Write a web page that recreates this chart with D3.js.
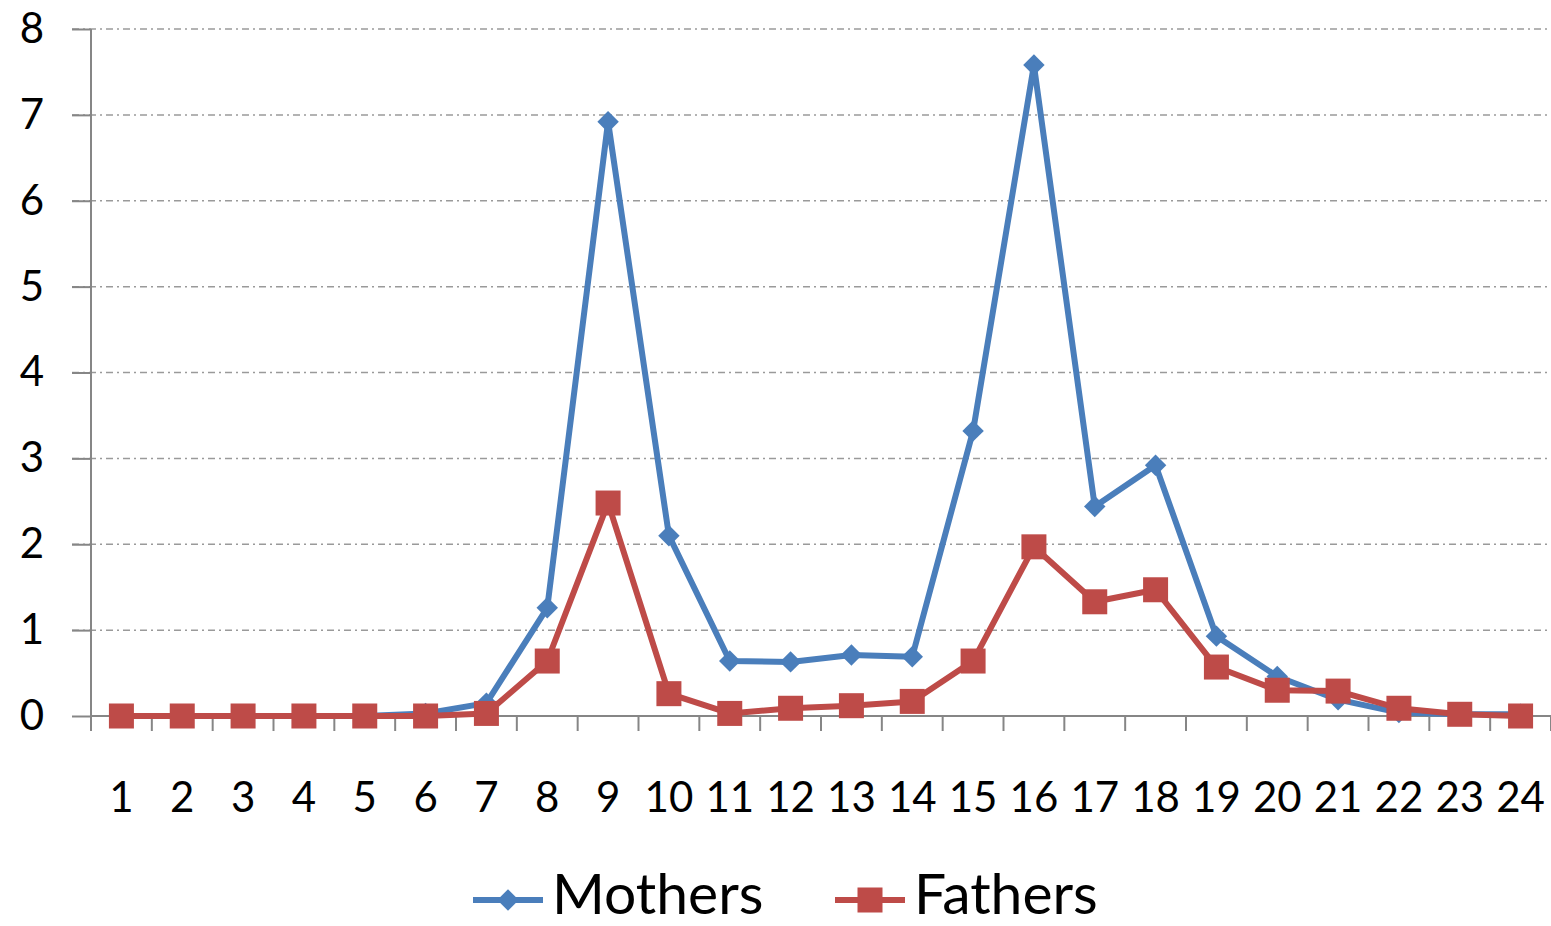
<!DOCTYPE html>
<html>
<head>
<meta charset="utf-8">
<script src="https://cdn.jsdelivr.net/npm/d3@7"></script>
<style>
  html, body { margin: 0; padding: 0; background: #fff; }
  svg { display: block; }
  text { font-family: Lato, "Open Sans", sans-serif; fill: #000; }
</style>
</head>
<body>
<svg id="chart" width="1551" height="926"></svg>
<script>
const categories = ["1","2","3","4","5","6","7","8","9","10","11","12","13","14","15","16","17","18","19","20","21","22","23","24"];
const mothers = [0, 0, 0, 0, 0, 0.03, 0.15, 1.26, 6.92, 2.1, 0.64, 0.63, 0.71, 0.69, 3.32, 7.58, 2.44, 2.92, 0.93, 0.46, 0.19, 0.04, 0.02, 0.02];
const fathers = [0, 0, 0, 0, 0, 0, 0.03, 0.64, 2.48, 0.26, 0.03, 0.09, 0.12, 0.17, 0.64, 1.97, 1.33, 1.47, 0.57, 0.3, 0.29, 0.09, 0.02, 0];
const yTicks = [0, 1, 2, 3, 4, 5, 6, 7, 8];
const seriesNames = ["Mothers", "Fathers"];
const seriesColors = ["#4A7EBB", "#BE4B48"];

(function () {
const svg = d3.select("#chart");
const mLeft = 91, mRight = 1551, mTop = 29, mBottom = 716;

const x = d3.scaleBand().domain(categories).range([mLeft, mRight]).padding(0);
const y = d3.scaleLinear().domain([0, 8]).range([mBottom, mTop]);

// gridlines
svg.append("g").selectAll("line").data(yTicks.filter(d => d > 0)).join("line")
  .attr("x1", mLeft - 19).attr("x2", mRight)
  .attr("y1", d => y(d)).attr("y2", d => y(d))
  .attr("stroke", "#9a9a9a").attr("stroke-width", 1.5)
  .attr("stroke-dasharray", "7,4,2,4");

// y axis
const yAxis = svg.append("g").attr("transform", `translate(${mLeft},0)`)
  .call(d3.axisLeft(y).tickValues(yTicks).tickSize(19).tickPadding(28).tickFormat(d3.format("d")));
yAxis.select(".domain").remove();
yAxis.selectAll(".tick line").attr("stroke", "#868686").attr("stroke-width", 2);
yAxis.selectAll(".tick text").attr("font-size", 42).attr("font-family", "Lato, 'Open Sans', sans-serif").attr("fill", "#000");
svg.append("line").attr("x1", mLeft).attr("x2", mLeft).attr("y1", mTop).attr("y2", mBottom + 15)
  .attr("stroke", "#868686").attr("stroke-width", 2);

// x axis
svg.append("line").attr("x1", mLeft).attr("x2", mRight).attr("y1", mBottom).attr("y2", mBottom)
  .attr("stroke", "#868686").attr("stroke-width", 2);
const bounds = categories.map(c => x(c)).concat([mRight]);
svg.append("g").selectAll("line").data(bounds).join("line")
  .attr("x1", d => d).attr("x2", d => d).attr("y1", mBottom).attr("y2", mBottom + 15)
  .attr("stroke", "#868686").attr("stroke-width", 2);
svg.append("g").selectAll("text").data(categories).join("text")
  .attr("x", d => x(d) + x.bandwidth() / 2).attr("y", 812)
  .attr("text-anchor", "middle").attr("font-size", 42).text(d => d);

const cx = (d, i) => x(categories[i]) + x.bandwidth() / 2;
const line = d3.line().x((d, i) => cx(d, i)).y(d => y(d));

function drawSeries(vals, color, kind) {
  svg.append("path").datum(vals).attr("d", line)
    .attr("fill", "none").attr("stroke", color).attr("stroke-width", 6)
    .attr("stroke-linejoin", "round").attr("stroke-linecap", "round");
  const g = svg.append("g");
  if (kind === "diamond") {
    g.selectAll("path").data(vals).join("path")
      .attr("d", d3.symbol().type(d3.symbolSquare).size(230))
      .attr("transform", (d, i) => `translate(${cx(d, i)},${y(d)}) rotate(45)`)
      .attr("fill", color);
  } else {
    g.selectAll("rect").data(vals).join("rect")
      .attr("x", (d, i) => cx(d, i) - 12.5).attr("y", d => y(d) - 12.5)
      .attr("width", 25).attr("height", 25).attr("fill", color);
  }
}
drawSeries(mothers, seriesColors[0], "diamond");
drawSeries(fathers, seriesColors[1], "square");

// legend
const legend = svg.append("g");
const legendItems = [
  { name: seriesNames[0], color: seriesColors[0], kind: "diamond", x0: 473 },
  { name: seriesNames[1], color: seriesColors[1], kind: "square", x0: 835 }
];
const ly = 900;
legendItems.forEach(it => {
  legend.append("line").attr("x1", it.x0).attr("x2", it.x0 + 70).attr("y1", ly).attr("y2", ly)
    .attr("stroke", it.color).attr("stroke-width", 6);
  if (it.kind === "diamond") {
    legend.append("path").attr("d", d3.symbol().type(d3.symbolSquare).size(230))
      .attr("transform", `translate(${it.x0 + 35},${ly}) rotate(45)`).attr("fill", it.color);
  } else {
    legend.append("rect").attr("x", it.x0 + 35 - 12.5).attr("y", ly - 12.5)
      .attr("width", 25).attr("height", 25).attr("fill", it.color);
  }
  legend.append("text").attr("x", it.x0 + 79).attr("y", 914)
    .attr("font-size", 57).text(it.name);
});
})();
</script>
</body>
</html>
